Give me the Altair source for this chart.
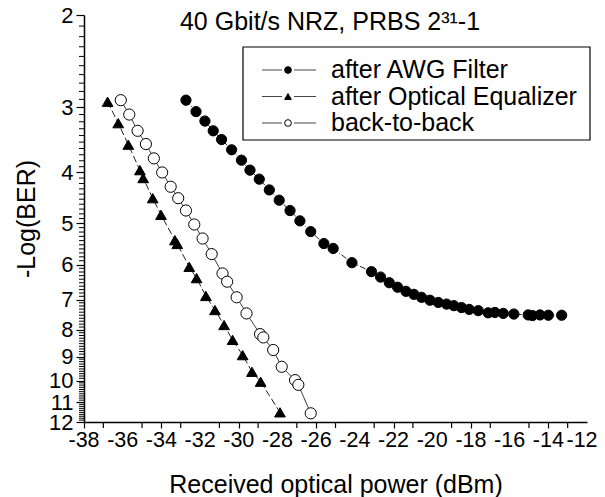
import altair as alt
import pandas as pd

# ---- data ----
series_names = ["after AWG Filter", "after Optical Equalizer", "back-to-back"]

awg_x = [-32.73, -32.21, -31.75, -31.32, -30.89, -30.37, -29.86, -29.42, -28.94, -28.42,
         -27.91, -27.35, -26.84, -26.28, -25.60, -25.12, -24.15, -23.14, -22.67, -22.22,
         -21.79, -21.36, -20.95, -20.55, -20.12, -19.69, -19.26, -18.88, -18.49, -18.09,
         -17.62, -17.11, -16.76, -16.33, -15.78, -15.04, -14.82, -14.43, -14.00, -13.31]
awg_y = [2.91, 3.06, 3.19, 3.33, 3.46, 3.62, 3.79, 3.96, 4.12, 4.32,
         4.52, 4.73, 4.95, 5.19, 5.47, 5.59, 5.95, 6.19, 6.34, 6.50,
         6.63, 6.75, 6.84, 6.93, 7.02, 7.09, 7.14, 7.19, 7.25, 7.31,
         7.35, 7.42, 7.41, 7.44, 7.46, 7.49, 7.51, 7.49, 7.50, 7.50]

eq_x = [-36.78, -36.23, -35.71, -35.11, -34.94, -34.45, -34.02, -33.30, -33.18, -32.56,
        -32.18, -31.70, -31.23, -30.76, -30.32, -29.80, -29.32, -28.87, -27.87]
eq_y = [2.93, 3.22, 3.54, 3.96, 4.10, 4.48, 4.82, 5.39, 5.48, 6.06,
        6.37, 6.89, 7.33, 7.83, 8.36, 8.94, 9.62, 10.05, 11.50]

b2b_x = [-36.10, -35.66, -35.23, -34.80, -34.39, -33.96, -33.52, -33.13, -32.73, -32.30,
         -31.87, -31.40, -30.84, -30.60, -30.11, -29.60, -28.90, -28.73, -28.22, -27.78,
         -27.09, -26.92, -26.28]
b2b_y = [2.91, 3.10, 3.33, 3.53, 3.76, 4.00, 4.26, 4.48, 4.73, 5.03,
         5.35, 5.73, 6.24, 6.47, 6.93, 7.44, 8.15, 8.27, 8.74, 9.41,
         9.98, 10.19, 11.55]

x_major = list(range(-38, -11, 2))
x_labels = [str(v) for v in x_major]
x_minor = list(range(-37, -12, 2))
y_ticks = list(range(2, 13))
y_minor = [round(v / 10, 1) for v in range(21, 120) if v % 10 != 0]

title_text = "40 Gbit/s NRZ, PRBS 2³¹-1"

# ---- tables ----
rows = []
for name, xs_, ys_ in [(series_names[0], awg_x, awg_y),
                       (series_names[1], eq_x, eq_y),
                       (series_names[2], b2b_x, b2b_y)]:
    for i, (a, b) in enumerate(zip(xs_, ys_)):
        rows.append({"series": name, "power": a, "nlogber": b, "idx": i})
df = pd.DataFrame(rows)
yminor_df = pd.DataFrame({"nlogber": y_minor})
xminor_df = pd.DataFrame({"power": x_minor})
xlab_df = pd.DataFrame({"power": x_major[:-1], "lab": x_labels[:-1]})
xlab_last_df = pd.DataFrame({"power": x_major[-1:], "lab": x_labels[-1:]})
legend_df = pd.DataFrame({"series": series_names, "row": [0, 1, 2]})

FONT = "Liberation Sans"
W, H = 503, 407
TICK_FS = 21.5

shape_scale = alt.Scale(domain=series_names, range=["circle", "triangle-up", "circle"])
fill_scale = alt.Scale(domain=series_names, range=["black", "black", "white"])
size_scale = alt.Scale(domain=series_names, range=[105, 125, 90])
dash_scale = alt.Scale(domain=series_names, range=[[6, 2, 1, 2], [7, 3], [1, 0]])

xs = alt.X("power:Q",
           scale=alt.Scale(domain=[-38, -12], nice=False, zero=False),
           axis=alt.Axis(values=x_major, title="Received optical power (dBm)",
                         labels=False, grid=False, tickSize=6, titlePadding=44))
ys = alt.Y("nlogber:Q",
           scale=alt.Scale(type="log", domain=[2, 12], reverse=True, nice=False),
           axis=alt.Axis(values=y_ticks, format="d", title="-Log(BER)", grid=False,
                         labelOverlap=False, tickSize=8, labelPadding=3, titlePadding=9))

lines = alt.Chart(df).mark_line(color="#222222", strokeWidth=1).encode(
    x=xs, y=ys, detail="series:N", order="idx:Q",
    strokeDash=alt.StrokeDash("series:N", scale=dash_scale, legend=None),
)
points = alt.Chart(df).mark_point(stroke="black", strokeWidth=1, opacity=1, fillOpacity=1).encode(
    x="power:Q", y="nlogber:Q",
    shape=alt.Shape("series:N", scale=shape_scale, legend=None),
    fill=alt.Fill("series:N", scale=fill_scale, legend=None),
    size=alt.Size("series:N", scale=size_scale, legend=None),
)
yminor = alt.Chart(yminor_df).mark_rule(color="black", strokeWidth=1).encode(
    y="nlogber:Q", x=alt.value(-5), x2=alt.value(0),
)
xminor = alt.Chart(xminor_df).mark_rule(color="black", strokeWidth=1.2).encode(
    x="power:Q", y=alt.value(H), y2=alt.value(H + 6),
)
xlabels = alt.Chart(xlab_df).mark_text(
    font=FONT, fontSize=TICK_FS, color="black", align="center", baseline="middle"
).encode(x="power:Q", y=alt.value(H + 19), text="lab:N")
xlabel_last = alt.Chart(xlab_last_df).mark_text(
    font=FONT, fontSize=TICK_FS, color="black", align="center", baseline="middle", dx=-5
).encode(x="power:Q", y=alt.value(H + 19), text="lab:N")
main = alt.layer(lines, points, yminor, xminor, xlabels, xlabel_last)

# title inside the plot area
title = alt.Chart(pd.DataFrame({"t": [title_text]})).mark_text(
    font=FONT, fontSize=25, color="black", baseline="middle", align="center"
).encode(text="t:N", x=alt.value(246), y=alt.value(7))

# legend box and entries
box = alt.Chart(pd.DataFrame({"a": [0]})).mark_rect(
    fill="white", stroke="black", strokeWidth=1.2
).encode(x=alt.value(159), x2=alt.value(506), y=alt.value(32), y2=alt.value(125))

leg_y = alt.Y("row:Q", scale=alt.Scale(domain=[0, 2], range=[55, 108]), axis=None)
leg_line1 = alt.Chart(legend_df).mark_rule(color="#444444", strokeWidth=1).encode(
    y=leg_y, x=alt.value(178), x2=alt.value(198))
leg_line2 = alt.Chart(legend_df).mark_rule(color="#444444", strokeWidth=1).encode(
    y=leg_y, x=alt.value(210), x2=alt.value(232))
leg_pts = alt.Chart(legend_df).mark_point(stroke="black", strokeWidth=1, opacity=1,
                                          fillOpacity=1, size=45).encode(
    y=leg_y, x=alt.value(204),
    shape=alt.Shape("series:N", scale=shape_scale, legend=None),
    fill=alt.Fill("series:N", scale=fill_scale, legend=None),
)
leg_txt = alt.Chart(legend_df).mark_text(
    font=FONT, fontSize=25, color="black", align="left", baseline="middle"
).encode(y=leg_y, x=alt.value(247), text="series:N")
legend = alt.layer(box, leg_line1, leg_line2, leg_pts, leg_txt)

chart = alt.layer(main, title, legend).resolve_scale(y="independent").properties(
    width=W, height=H,
    autosize=alt.AutoSizeParams(type="none"),
    padding={"left": 76, "top": 7, "right": 10, "bottom": 75},
).configure_view(stroke=None).configure_axis(
    domainColor="black", domainWidth=1.5, tickColor="black", tickWidth=1.2,
    labelFont=FONT, labelFontSize=22, labelColor="black",
    titleFont=FONT, titleFontSize=25, titleColor="black", titleFontWeight="normal",
)

chart.save("out.html", embed_options={"renderer": "svg", "actions": False})
